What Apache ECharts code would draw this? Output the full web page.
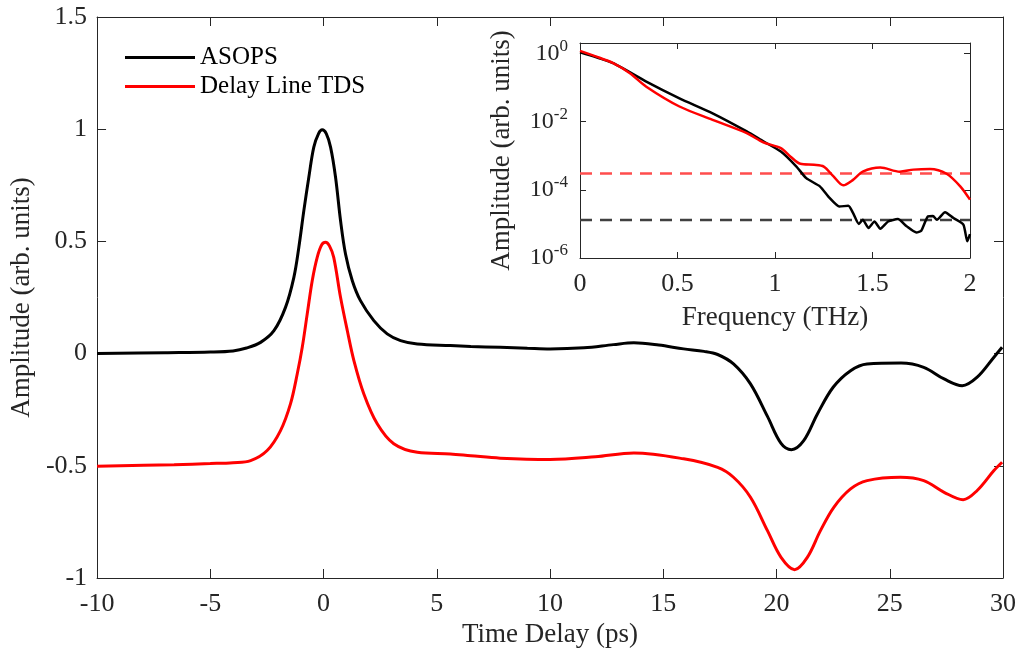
<!DOCTYPE html>
<html>
<head>
<meta charset="utf-8">
<script src="https://cdn.jsdelivr.net/npm/echarts@6/dist/echarts.min.js"></script>
<style>html,body{margin:0;padding:0;background:#fff;}#c{width:1019px;height:656px;}</style>
</head>
<body>
<div id="c"></div>
<script>
// Main chart: time-domain traces
const asopsT = [-10,-7,-5,-4,-3.4,-2.78,-2.19,-1.68,-1.31,-1.09,-0.87,-0.65,-0.43,-0.22,-0.06,0.12,0.31,0.53,0.75,0.97,1.27,1.63,2.22,2.81,3.4,4.14,5.6,6.5,7.8,9,10,11.5,12.8,13.7,14.8,15.9,16.8,17.4,18.1,18.85,19.6,20.2,20.66,21.2,21.8,22.5,23.27,24,25.5,26.5,27.4,28.2,28.86,29.6,29.96];
const asopsV = [0.0,0.004,0.007,0.012,0.025,0.05,0.102,0.206,0.34,0.474,0.637,0.786,0.92,0.98,0.997,0.98,0.92,0.786,0.593,0.444,0.325,0.236,0.147,0.088,0.058,0.043,0.036,0.032,0.028,0.024,0.021,0.026,0.04,0.048,0.038,0.021,0.01,-0.004,-0.046,-0.135,-0.28,-0.40,-0.428,-0.388,-0.27,-0.15,-0.076,-0.046,-0.042,-0.061,-0.113,-0.143,-0.105,-0.016,0.028];
const delayT = [-10,-6.6,-5,-4,-3.22,-2.49,-1.9,-1.46,-1.16,-0.94,-0.72,-0.5,-0.28,-0.08,0.09,0.26,0.45,0.75,1.05,1.34,1.78,2.37,3.1,4.14,5.6,6.5,7.8,10,12,13.7,15.9,17.4,18.1,18.85,19.6,20.2,20.8,21.36,21.94,22.53,23.27,24,25.47,26.5,27.4,28.24,28.86,29.6,29.96];
const delayV = [-0.502,-0.495,-0.49,-0.486,-0.477,-0.432,-0.343,-0.224,-0.09,0.028,0.177,0.325,0.429,0.485,0.496,0.48,0.429,0.251,0.102,-0.031,-0.18,-0.313,-0.402,-0.44,-0.447,-0.455,-0.466,-0.472,-0.46,-0.443,-0.469,-0.507,-0.551,-0.64,-0.789,-0.908,-0.963,-0.908,-0.789,-0.685,-0.603,-0.566,-0.551,-0.566,-0.618,-0.651,-0.61,-0.521,-0.484];
// Inset: spectra (log10 of amplitude)
const specAF = [0,0.08,0.17,0.34,0.51,0.68,0.855,0.94,1.03,1.11,1.16,1.23,1.28,1.33,1.376,1.4,1.43,1.45,1.48,1.51,1.54,1.58,1.63,1.675,1.725,1.75,1.785,1.81,1.83,1.872,1.915,1.966,1.986,2.0];
const specAlog = [0.03,-0.11,-0.29,-0.83,-1.32,-1.76,-2.29,-2.58,-2.88,-3.32,-3.66,-3.90,-4.24,-4.49,-4.47,-4.68,-5.0,-4.88,-5.12,-4.93,-5.14,-4.93,-4.86,-5.07,-5.25,-5.2,-4.78,-4.77,-4.88,-4.66,-4.83,-5.02,-5.51,-5.3];
const specDF = [0,0.08,0.17,0.256,0.34,0.51,0.68,0.855,0.94,1.03,1.08,1.13,1.2,1.25,1.3,1.35,1.4,1.45,1.54,1.64,1.71,1.795,1.88,1.95,2.0];
const specDlog = [0.07,-0.09,-0.29,-0.585,-0.98,-1.56,-1.95,-2.34,-2.61,-2.78,-3.03,-3.24,-3.27,-3.32,-3.61,-3.87,-3.71,-3.47,-3.35,-3.47,-3.41,-3.39,-3.53,-3.9,-4.29];
const noiseA = 1.3e-5;
const noiseD = 3.0e-4;
const insetXRange = [0,2];

const pair = (xs, ys) => xs.map((x,i)=>[x, ys[i]]);
const pairLog = (xs, ls) => xs.map((x,i)=>[x, Math.pow(10, ls[i])]);

const FONT = 'Liberation Serif';
const AX = '#262626';
const TICKF = 26, NAMEF = 27;
const chart = echarts.init(document.getElementById('c'), null, {renderer:'canvas'});
const baseAxis = {
  axisLine:{show:true, onZero:false, lineStyle:{color:AX, width:1}},
  axisTick:{show:true, inside:true, length:9, lineStyle:{color:AX}},
  splitLine:{show:false},
  axisLabel:{color:'#262626', fontFamily:FONT, fontSize:TICKF}
};
const insetTick = {show:true, inside:true, length:6, lineStyle:{color:AX}};
const hidden = {axisLabel:{show:false}};
const nameStyle = {fontFamily:FONT, fontSize:NAMEF, color:'#262626'};
const sup = v => '10{s|' + Math.round(Math.log10(v)) + '}';
chart.setOption({
  backgroundColor:'#fff',
  animation:false,
  textStyle:{fontFamily:FONT},
  legend:{
    left:120, top:40, orient:'vertical', itemWidth:70, itemHeight:3, itemGap:4,
    icon:'rect',
    data:['ASOPS','Delay Line TDS'],
    textStyle:{fontFamily:FONT, fontSize:25, color:'#000'}
  },
  grid:[
    {left:97, right:16, top:17, bottom:78},
    {left:580, right:49, top:43, bottom:398}
  ],
  xAxis:[
    Object.assign({}, baseAxis, {gridIndex:0, type:'value', min:-10, max:30, interval:5, position:'bottom',
      name:'Time Delay (ps)', nameLocation:'middle', nameGap:43, nameTextStyle:nameStyle,
      axisLabel:Object.assign({}, baseAxis.axisLabel, {margin:13})}),
    Object.assign({}, baseAxis, {gridIndex:0, type:'value', min:-10, max:30, interval:5, position:'top'}, hidden),
    Object.assign({}, baseAxis, {gridIndex:1, type:'value', min:0, max:2, interval:0.5, position:'bottom',
      axisTick:insetTick,
      name:'Frequency (THz)', nameLocation:'middle', nameGap:46, nameTextStyle:nameStyle,
      axisLabel:Object.assign({}, baseAxis.axisLabel, {margin:13})}),
    Object.assign({}, baseAxis, {gridIndex:1, type:'value', min:0, max:2, interval:0.5, position:'top',
      axisTick:insetTick}, hidden)
  ],
  yAxis:[
    Object.assign({}, baseAxis, {gridIndex:0, type:'value', min:-1, max:1.5, interval:0.5, position:'left',
      name:'Amplitude (arb. units)', nameLocation:'middle', nameGap:61, nameTextStyle:nameStyle,
      axisLabel:Object.assign({}, baseAxis.axisLabel, {margin:10, formatter:v=>String(v)})}),
    Object.assign({}, baseAxis, {gridIndex:0, type:'value', min:-1, max:1.5, interval:0.5, position:'right'}, hidden),
    Object.assign({}, baseAxis, {gridIndex:1, type:'log', logBase:10, min:1e-6, max:2, interval:2, position:'left',
      axisTick:insetTick,
      name:'Amplitude (arb. units)', nameLocation:'middle', nameGap:65, nameTextStyle:nameStyle,
      axisLabel:Object.assign({}, baseAxis.axisLabel, {margin:12, fontSize:24, showMaxLabel:false, formatter:sup,
        rich:{s:{fontFamily:FONT, fontSize:17, color:'#262626', padding:[0,0,14,0]}}})}),
    Object.assign({}, baseAxis, {gridIndex:1, type:'log', logBase:10, min:1e-6, max:2, interval:2, position:'right',
      axisTick:insetTick}, hidden)
  ],
  series:[
    {name:'ASOPS', type:'line', xAxisIndex:0, yAxisIndex:0, data:pair(asopsT, asopsV), smooth:0.35, showSymbol:false,
      lineStyle:{color:'#000', width:3}, itemStyle:{color:'#000'}},
    {name:'Delay Line TDS', type:'line', xAxisIndex:0, yAxisIndex:0, data:pair(delayT, delayV), smooth:0.35, showSymbol:false,
      lineStyle:{color:'#ff0000', width:3}, itemStyle:{color:'#ff0000'}},
    {name:'noiseD', type:'line', xAxisIndex:2, yAxisIndex:2, data:[[insetXRange[0],noiseD],[insetXRange[1],noiseD]], showSymbol:false,
      lineStyle:{color:'#ff4d4d', width:2.5, type:[12,8]}, z:1},
    {name:'noiseA', type:'line', xAxisIndex:2, yAxisIndex:2, data:[[insetXRange[0],noiseA],[insetXRange[1],noiseA]], showSymbol:false,
      lineStyle:{color:'#404040', width:2.5, type:[12,8]}, z:1},
    {name:'specD', type:'line', xAxisIndex:2, yAxisIndex:2, data:pairLog(specDF, specDlog), smooth:0.3, showSymbol:false,
      lineStyle:{color:'#ff0000', width:2.5}, z:3},
    {name:'specA', type:'line', xAxisIndex:2, yAxisIndex:2, data:pairLog(specAF, specAlog), smooth:0.2, showSymbol:false,
      lineStyle:{color:'#000', width:2.5}, z:2}
  ]
});
</script>
</body>
</html>
